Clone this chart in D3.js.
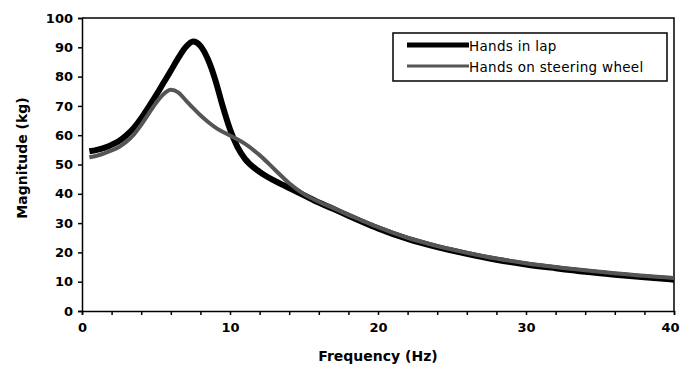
<!DOCTYPE html>
<html>
<head>
<meta charset="utf-8">
<script src="https://cdn.jsdelivr.net/npm/d3@7"></script>
<style>
  body { margin: 0; background: #fff; }
  svg { display: block; }
</style>
</head>
<body>
<div class="main"></div>
<script>
// values
const freq = [0.5, 1, 1.5, 2, 2.5, 3, 3.5, 4, 4.5, 5, 5.5, 6, 6.5, 7, 7.5, 8, 8.5, 9, 9.5, 10, 10.5, 11, 12, 13, 14, 15, 16, 17, 18, 19, 20, 22, 24, 26, 28, 30, 32, 34, 36, 38, 40];
const lap = [54.5, 55, 55.7, 56.7, 58, 60, 62.5, 65.8, 69.6, 73.6, 77.8, 82, 86.3, 90, 92, 90.5, 86, 79, 70, 62, 56, 52, 47.5, 44.5, 42, 39.5, 37, 34.8, 32.5, 30.3, 28.2, 24.6, 21.8, 19.5, 17.5, 15.9, 14.6, 13.4, 12.4, 11.5, 10.7];
const wheel = [52.5, 53, 53.8, 54.8, 56, 57.8, 60.2, 63.5, 67.3, 71, 74, 75.5, 74.6, 72, 69.3, 66.8, 64.6, 62.7, 61.2, 59.9, 58.6, 57.1, 53.2, 48.4, 43.6, 39.9, 37.3, 35.1, 32.8, 30.7, 28.6, 25, 22.2, 19.9, 17.9, 16.3, 15, 13.9, 12.9, 12, 11.3];
const seriesNames = ["Hands in lap", "Hands on steering wheel"];
const xTicks = [0, 10, 20, 30, 40];
const yTicks = [0, 10, 20, 30, 40, 50, 60, 70, 80, 90, 100];

const w = 682, h = 372;
const padLeft = 82, padRight = 674, padTop = 18, padBottom = 311;

const svg = d3.select(".main").append("svg")
  .attr("width", w)
  .attr("height", h);

const xScale = d3.scaleLinear().domain([0, 40]).range([padLeft, padRight]);
const yScale = d3.scaleLinear().domain([0, 100]).range([padBottom, padTop]);

// plot frame (top and right)
svg.append("path")
  .attr("d", "M" + padLeft + "," + padTop + "H" + padRight + "V" + padBottom)
  .attr("fill", "none")
  .attr("stroke", "#000")
  .attr("stroke-width", 1.5);

const xAxis = d3.axisBottom(xScale)
  .tickValues(d3.range(0, 41, 2))
  .tickSize(4)
  .tickFormat((d) => xTicks.includes(d) ? d : "");

svg.append("g")
  .attr("transform", "translate(0," + padBottom + ")")
  .call(xAxis)
  .call((g) => {
    g.select(".domain").attr("stroke-width", 1.5);
    g.selectAll("line").attr("stroke-width", 1.5);
    g.selectAll("text")
      .attr("y", 12)
      .attr("font-family", "DejaVu Sans")
      .attr("font-weight", "bold")
      .attr("font-size", "13px")
      .attr("fill", "#000")
      .attr("dx", (d) => d == 40 ? -4 : 0);
  });

const yAxis = d3.axisLeft(yScale)
  .tickValues(yTicks)
  .tickSize(4);

svg.append("g")
  .attr("transform", "translate(" + padLeft + ",0)")
  .call(yAxis)
  .call((g) => {
    g.select(".domain").attr("stroke-width", 1.5);
    g.selectAll("line").attr("stroke-width", 1.5);
    g.selectAll("text")
      .attr("x", -9)
      .attr("font-family", "DejaVu Sans")
      .attr("font-weight", "bold")
      .attr("font-size", "13px")
      .attr("fill", "#000");
  });

const line = (vals) => d3.line()
  .x((d, i) => xScale(freq[i]))
  .y((d) => yScale(d))
  .curve(d3.curveMonotoneX)(vals);

svg.append("path")
  .attr("d", line(lap))
  .attr("fill", "none")
  .attr("stroke", "#000")
  .attr("stroke-width", 6)
  .attr("stroke-linejoin", "round");

svg.append("path")
  .attr("d", line(wheel))
  .attr("fill", "none")
  .attr("stroke", "#555")
  .attr("stroke-width", 4)
  .attr("stroke-linejoin", "round");

// axis titles
svg.append("text")
  .attr("x", xScale(20))
  .attr("y", 361)
  .attr("text-anchor", "middle")
  .attr("font-family", "DejaVu Sans")
  .attr("font-weight", "bold")
  .attr("font-size", "14px")
  .text("Frequency (Hz)");

svg.append("text")
  .attr("transform", "rotate(-90)")
  .attr("x", -158)
  .attr("y", 27)
  .attr("text-anchor", "middle")
  .attr("font-family", "DejaVu Sans")
  .attr("font-weight", "bold")
  .attr("font-size", "14px")
  .text("Magnitude (kg)");

// legend
const legend = svg.append("g");
legend.append("rect")
  .attr("x", 393)
  .attr("y", 33)
  .attr("width", 274)
  .attr("height", 48)
  .attr("fill", "#fff")
  .attr("stroke", "#000")
  .attr("stroke-width", 1.5);

const legendStyles = [{ c: "#000", sw: 5 }, { c: "#555", sw: 3 }];
seriesNames.forEach((name, i) => {
  const yy = 45 + i * 21;
  legend.append("line")
    .attr("x1", 407).attr("x2", 469)
    .attr("y1", yy).attr("y2", yy)
    .attr("stroke", legendStyles[i].c)
    .attr("stroke-width", legendStyles[i].sw);
  legend.append("text")
    .attr("x", 469)
    .attr("y", yy + 6)
    .attr("font-family", "DejaVu Sans")
    .attr("font-size", "13.5px")
    .attr("letter-spacing", "0.3px")
    .text(name);
});
</script>
</body>
</html>
